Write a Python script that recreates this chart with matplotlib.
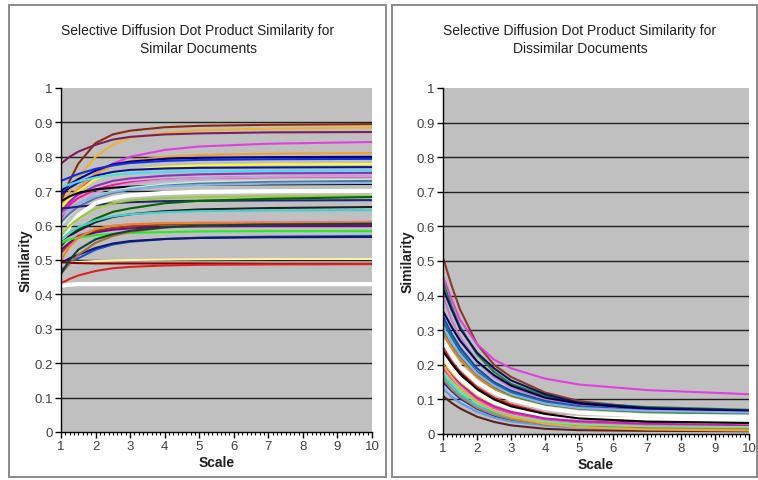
import numpy as np
import matplotlib
matplotlib.use("Agg")
import matplotlib.pyplot as plt
from matplotlib.patches import Rectangle
from matplotlib.ticker import MultipleLocator

plt.rcParams["font.family"] = ["Liberation Sans", "DejaVu Sans"]

scale = [1, 1.25, 1.5, 2, 2.5, 3, 4, 5, 7, 10]

# similar documents: (colour, values at each scale)
similar_colors = [
    "#8B2A10", "#F0B030", "#7B1F5E", "#E040E0", "#F0A030", "#000080",
    "#1030E0", "#FFFF20", "#1010A0", "#40E0F0", "#9030C0", "#FF1493",
    "#C8A0E0", "#000000", "#C8F0E0", "#6070A0", "#80B8E0", "#202080",
    "#FFFFFF", "#9ACD32", "#006400", "#202020", "#40D0D0", "#D0A0E0",
    "#8B4513", "#800080", "#20F020", "#1E50D0", "#101870", "#F08030",
    "#A07030", "#FFF0A0", "#8B0000", "#E02020", "#FFFFFF", "#104040",
]
similar_values = [
    [0.67, 0.73, 0.78, 0.84, 0.865, 0.876, 0.886, 0.890, 0.893, 0.895],
    [0.66, 0.70, 0.74, 0.80, 0.835, 0.855, 0.870, 0.877, 0.882, 0.885],
    [0.78, 0.80, 0.815, 0.835, 0.850, 0.858, 0.865, 0.868, 0.871, 0.872],
    [0.62, 0.66, 0.70, 0.75, 0.780, 0.800, 0.820, 0.830, 0.838, 0.843],
    [0.64, 0.68, 0.71, 0.75, 0.775, 0.788, 0.800, 0.805, 0.809, 0.811],
    [0.70, 0.72, 0.735, 0.76, 0.778, 0.786, 0.794, 0.797, 0.799, 0.800],
    [0.73, 0.74, 0.75, 0.765, 0.775, 0.782, 0.788, 0.791, 0.793, 0.794],
    [0.65, 0.68, 0.70, 0.735, 0.752, 0.762, 0.771, 0.775, 0.778, 0.779],
    [0.69, 0.71, 0.725, 0.745, 0.756, 0.762, 0.766, 0.768, 0.769, 0.770],
    [0.71, 0.72, 0.728, 0.74, 0.748, 0.752, 0.756, 0.758, 0.759, 0.760],
    [0.64, 0.67, 0.69, 0.715, 0.730, 0.737, 0.745, 0.749, 0.752, 0.753],
    [0.63, 0.66, 0.68, 0.705, 0.718, 0.726, 0.734, 0.738, 0.741, 0.743],
    [0.61, 0.64, 0.665, 0.695, 0.712, 0.722, 0.733, 0.738, 0.742, 0.744],
    [0.67, 0.685, 0.695, 0.705, 0.710, 0.713, 0.717, 0.719, 0.720, 0.721],
    [0.60, 0.63, 0.655, 0.685, 0.700, 0.710, 0.720, 0.726, 0.730, 0.733],
    [0.61, 0.635, 0.655, 0.68, 0.695, 0.705, 0.716, 0.722, 0.727, 0.730],
    [0.63, 0.65, 0.665, 0.685, 0.698, 0.706, 0.714, 0.718, 0.722, 0.724],
    [0.65, 0.652, 0.655, 0.66, 0.665, 0.668, 0.671, 0.672, 0.673, 0.674],
    [0.55, 0.60, 0.63, 0.665, 0.680, 0.688, 0.695, 0.698, 0.700, 0.701],
    [0.57, 0.60, 0.62, 0.65, 0.665, 0.673, 0.680, 0.683, 0.685, 0.686],
    [0.54, 0.57, 0.59, 0.62, 0.640, 0.650, 0.665, 0.672, 0.678, 0.683],
    [0.55, 0.57, 0.585, 0.61, 0.625, 0.633, 0.642, 0.647, 0.651, 0.654],
    [0.56, 0.58, 0.595, 0.615, 0.627, 0.633, 0.639, 0.642, 0.644, 0.645],
    [0.55, 0.565, 0.575, 0.59, 0.598, 0.603, 0.608, 0.610, 0.612, 0.613],
    [0.52, 0.55, 0.57, 0.585, 0.593, 0.598, 0.603, 0.605, 0.606, 0.607],
    [0.53, 0.55, 0.565, 0.58, 0.588, 0.592, 0.596, 0.598, 0.599, 0.599],
    [0.55, 0.56, 0.565, 0.572, 0.576, 0.579, 0.581, 0.583, 0.584, 0.584],
    [0.47, 0.49, 0.505, 0.53, 0.545, 0.553, 0.561, 0.565, 0.568, 0.570],
    [0.49, 0.505, 0.515, 0.535, 0.548, 0.555, 0.561, 0.564, 0.566, 0.567],
    [0.50, 0.54, 0.565, 0.59, 0.600, 0.604, 0.607, 0.608, 0.609, 0.610],
    [0.46, 0.49, 0.515, 0.55, 0.570, 0.582, 0.594, 0.600, 0.604, 0.607],
    [0.49, 0.492, 0.494, 0.497, 0.499, 0.500, 0.501, 0.502, 0.503, 0.503],
    [0.493, 0.492, 0.491, 0.490, 0.490, 0.490, 0.490, 0.490, 0.489, 0.489],
    [0.432, 0.445, 0.455, 0.468, 0.476, 0.480, 0.484, 0.486, 0.487, 0.488],
    [0.425, 0.428, 0.430, 0.430, 0.430, 0.430, 0.430, 0.430, 0.430, 0.430],
    [0.46, 0.50, 0.53, 0.56, 0.575, 0.585, 0.595, 0.600, 0.603, 0.605],
]

# dissimilar documents
dissimilar_colors = [
    "#8B3A2A", "#E040E0", "#208040", "#C080C0", "#101060", "#000050",
    "#2040C0", "#008080", "#30A030", "#E08020", "#FFFFFF", "#E02020",
    "#400000", "#F0E020", "#FFFFFF", "#FF40C0", "#C020C0", "#20D0E0",
    "#1030D0", "#60A0E0", "#602020", "#C08040", "#80E080", "#000000",
    "#E0B040", "#A0A0FF",
]
dissimilar_values = [
    [0.51, 0.43, 0.36, 0.26, 0.20, 0.165, 0.12, 0.095, 0.075, 0.065],
    [0.455, 0.39, 0.33, 0.26, 0.215, 0.19, 0.16, 0.143, 0.127, 0.115],
    [0.44, 0.37, 0.31, 0.23, 0.18, 0.145, 0.11, 0.09, 0.078, 0.07],
    [0.40, 0.33, 0.28, 0.21, 0.165, 0.135, 0.10, 0.085, 0.072, 0.065],
    [0.42, 0.36, 0.305, 0.235, 0.19, 0.155, 0.115, 0.09, 0.075, 0.068],
    [0.355, 0.31, 0.27, 0.21, 0.17, 0.14, 0.105, 0.088, 0.072, 0.063],
    [0.34, 0.29, 0.25, 0.19, 0.15, 0.125, 0.095, 0.08, 0.068, 0.06],
    [0.325, 0.28, 0.24, 0.18, 0.145, 0.12, 0.092, 0.078, 0.066, 0.058],
    [0.30, 0.26, 0.225, 0.17, 0.135, 0.11, 0.085, 0.073, 0.063, 0.056],
    [0.29, 0.25, 0.215, 0.165, 0.13, 0.105, 0.078, 0.065, 0.055, 0.05],
    [0.27, 0.23, 0.195, 0.15, 0.12, 0.10, 0.075, 0.062, 0.053, 0.05],
    [0.25, 0.21, 0.18, 0.135, 0.105, 0.085, 0.06, 0.048, 0.04, 0.035],
    [0.235, 0.20, 0.17, 0.125, 0.095, 0.075, 0.052, 0.042, 0.033, 0.03],
    [0.215, 0.18, 0.15, 0.11, 0.085, 0.068, 0.048, 0.038, 0.03, 0.028],
    [0.225, 0.19, 0.16, 0.12, 0.092, 0.074, 0.054, 0.046, 0.042, 0.04],
    [0.19, 0.16, 0.135, 0.10, 0.075, 0.06, 0.042, 0.033, 0.026, 0.022],
    [0.20, 0.17, 0.145, 0.105, 0.08, 0.064, 0.045, 0.037, 0.03, 0.025],
    [0.17, 0.14, 0.115, 0.082, 0.062, 0.048, 0.032, 0.025, 0.02, 0.018],
    [0.15, 0.125, 0.103, 0.073, 0.053, 0.04, 0.027, 0.02, 0.016, 0.014],
    [0.13, 0.108, 0.09, 0.064, 0.047, 0.036, 0.024, 0.018, 0.014, 0.012],
    [0.11, 0.09, 0.074, 0.05, 0.035, 0.025, 0.015, 0.011, 0.009, 0.008],
    [0.16, 0.13, 0.108, 0.076, 0.056, 0.043, 0.028, 0.021, 0.016, 0.014],
    [0.18, 0.15, 0.125, 0.09, 0.068, 0.053, 0.036, 0.028, 0.022, 0.02],
    [0.24, 0.205, 0.175, 0.13, 0.10, 0.08, 0.058, 0.045, 0.036, 0.032],
    [0.20, 0.165, 0.135, 0.095, 0.068, 0.05, 0.03, 0.02, 0.013, 0.01],
    [0.31, 0.265, 0.23, 0.175, 0.14, 0.115, 0.088, 0.075, 0.067, 0.062],
]

titles = [
    "Selective Diffusion Dot Product Similarity for\nSimilar Documents",
    "Selective Diffusion Dot Product Similarity for\nDissimilar Documents",
]

W, H = 758, 481
fig = plt.figure(figsize=(W / 100, H / 100), dpi=100)


def fx(px):
    return px / W


def fy(py):
    return 1 - py / H


# panel frames
for x0, x1 in [(9, 386), (392, 757)]:
    fig.patches.append(Rectangle((fx(x0), fy(478)), fx(x1 - x0), (478 - 6) / H,
                                 transform=fig.transFigure, fill=False,
                                 edgecolor="#8a8a8a", lw=1.4))

ax_boxes = [(61, 372, 89, 433), (443, 749, 89, 435)]
panels = [(similar_colors, similar_values), (dissimilar_colors, dissimilar_values)]

for i, (box, (colors, values)) in enumerate(zip(ax_boxes, panels)):
    l, r, t, b = box
    ax = fig.add_axes([fx(l), fy(b), fx(r - l), (b - t) / H])
    ax.set_facecolor("#C0C0C0")
    for y in np.arange(0.1, 1.0, 0.1):
        ax.axhline(y, color="#202020", lw=1.0, zorder=1)
    for c, v in zip(colors, values):
        lw = 3.0 if c == "#FFFFFF" else 1.5
        ax.plot(scale, v, color=c, lw=lw, zorder=2, solid_capstyle="butt")
    ax.set_xlim(1, 10)
    ax.set_ylim(0, 1)
    ax.set_xticks(range(1, 11))
    ax.xaxis.set_minor_locator(MultipleLocator(0.125))
    ax.set_yticks(np.arange(0, 1.01, 0.1))
    ax.set_yticklabels(["0"] + ["%.1f" % y for y in np.arange(0.1, 0.95, 0.1)] + ["1"])
    for s in ["top", "right"]:
        ax.spines[s].set_visible(False)
    for s in ["left", "bottom"]:
        ax.spines[s].set_color("black")
        ax.spines[s].set_linewidth(1.0)
    ax.tick_params(axis="both", which="major", direction="out", length=4,
                   width=1, labelsize=9.5, labelcolor="#404040", pad=2)
    ax.tick_params(axis="x", which="minor", direction="out", length=2.5, width=0.8)
    ax.set_xlabel("Scale", fontsize=10, fontweight="bold", color="#202020", labelpad=2)
    ax.set_ylabel("Similarity", fontsize=10, fontweight="bold", color="#202020", labelpad=1)

fig.text(fx(198), fy(40), titles[0], ha="center", va="center", fontsize=10,
         color="#202020", linespacing=1.3)
fig.text(fx(580), fy(40), titles[1], ha="center", va="center", fontsize=10,
         color="#202020", linespacing=1.3)

fig.savefig("out.png", dpi=100)
